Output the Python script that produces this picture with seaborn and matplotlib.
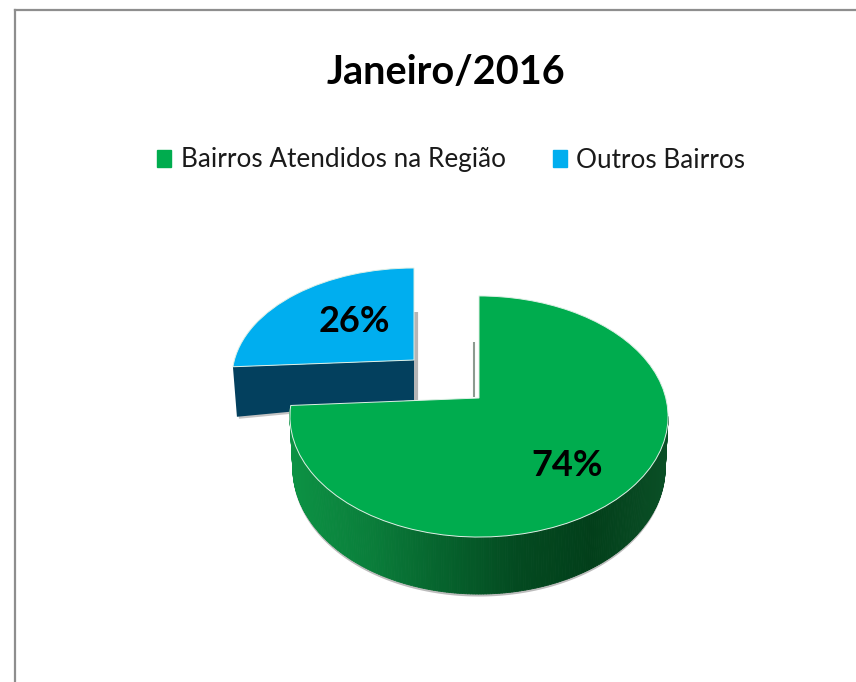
from matplotlib import pyplot as plt
from matplotlib.collections import PolyCollection
from matplotlib.patches import Patch, Polygon
from matplotlib.transforms import Transform
import numpy as np
import seaborn as sns

title = "Janeiro/2016"
categories = ["Bairros Atendidos na Região", "Outros Bairros"]
shares = [74, 26]
labels = ["74%", "26%"]

W, H = 856, 682
GREEN = "#00ac4e"
BLUE = "#00aeef"
NAVY = "#03405e"
GREEN_WALL = ["#0c9244", "#0a7f3b", "#06632d", "#034a20", "#023f1a", "#0a4f26"]

sns.set_theme(style="white")
plt.rcParams["font.family"] = ["Lato", "DejaVu Sans"]


class Tilt(Transform):
    # perspective view of a unit pie, result in picture pixels
    input_dims = 2
    output_dims = 2

    def __init__(self, cx, cy, sx, sy, k):
        super().__init__()
        self.cx, self.cy, self.sx, self.sy, self.k = cx, cy, sx, sy, k

    def transform_non_affine(self, values):
        x, y = values[:, 0], values[:, 1]
        w = 1 + self.k * y
        return np.column_stack([self.cx + self.sx * x / w, self.cy - self.sy * y / w])


def unit_points(angles):
    return np.column_stack([np.cos(np.radians(angles)), np.sin(np.radians(angles))])


def draw_slice(ax, value, color, tilt, clockwise, zorder):
    wedges, _ = ax.pie([value / 100], colors=[color], startangle=90, normalize=False,
                       counterclock=not clockwise,
                       wedgeprops={"clip_on": False, "linewidth": 0.7, "edgecolor": "#dff0e6", "zorder": zorder})
    wedges[0].set_transform(tilt + ax.transData)


fig = plt.figure(figsize=(W / 100, H / 100), dpi=100)

# chart border, only left and top are drawn in the picture
frame = fig.add_axes([15 / W, 0, 1, 1 - 10 / H])
frame.set_xticks([])
frame.set_yticks([])
sns.despine(ax=frame, top=False, right=True, left=False, bottom=True)
for side_name in ["left", "top"]:
    frame.spines[side_name].set_color("#8e8e8e")
    frame.spines[side_name].set_linewidth(1.6)

ax = fig.add_axes([0, 0, 1, 1])

# blue slice, pulled away from the pie
tilt_b = Tilt(414, 360, 179.6, 106.7, 0.16)
draw_slice(ax, shares[1], BLUE, tilt_b, False, 3)
end = tilt_b.transform(unit_points(np.array([90 + 3.6 * shares[1]])))[0]
apex = tilt_b.transform(np.array([[0.0, 0.0]]))[0]
wall = [end, apex, apex + [0, 40], end + [4, 50]]
ax.add_patch(Polygon(np.array(wall) + [2, 2], color="#c4c4c4", lw=0, zorder=1))
ax.plot([416.5, 416.5], [312, 400], color="#b5b5b5", lw=3, solid_capstyle="butt", zorder=1)
ax.add_patch(Polygon(wall, color=NAVY, lw=0, zorder=2))

# green slice with the shaded side wall
tilt_g = Tilt(479, 398, 186.8, 117.7, 0.1535)
draw_slice(ax, shares[0], GREEN, tilt_g, True, 7)
ax.plot([474.5, 474.5], [342, 397], color="#8c9a90", lw=1.5, solid_capstyle="butt", zorder=4)
t = np.linspace(90 - 3.6 * shares[0] + 360, 360 - np.degrees(np.arcsin(tilt_g.k)), 240)
top = tilt_g.transform(unit_points(t))
depth = 50 + 7 * np.abs(np.sin(np.radians(t)))
bottom = np.column_stack([479 + (top[:, 0] - 479) * 0.985, top[:, 1] + depth])
outline = np.vstack([top, bottom[::-1]])
ax.add_patch(Polygon(outline + [0, 2.5], color="#bcbcbc", lw=0, zorder=5))
cmap = sns.blend_palette(GREEN_WALL, n_colors=256, as_cmap=True)
strips = [[top[i], top[i + 1], bottom[i + 1], bottom[i]] for i in range(len(t) - 1)]
strip_colors = cmap((top[:-1, 0] - top[:, 0].min()) / np.ptp(top[:, 0]))
ax.add_collection(PolyCollection(strips, facecolors=strip_colors, edgecolors=strip_colors,
                                 linewidths=0.6, zorder=6))

ax.set_aspect("auto")
ax.set_xlim(0, W)
ax.set_ylim(H, 0)
ax.axis("off")

fig.text(446 / W, 1 - 72 / H, title, ha="center", va="center", fontsize=28.5, fontweight="bold", color="black")
fig.text(567 / W, 1 - 466 / H, labels[0], ha="center", va="center", fontsize=26, fontweight="bold", color="black")
fig.text(354 / W, 1 - 321 / H, labels[1], ha="center", va="center", fontsize=26, fontweight="bold", color="black")

fig.legend(handles=[Patch(color=GREEN), Patch(color=BLUE)], labels=categories,
           ncol=2, loc="center", bbox_to_anchor=(451 / W, 1 - 160 / H), frameon=False,
           fontsize=18.8, handlelength=0.55, handleheight=0.65, handletextpad=0.35,
           columnspacing=1.8, labelcolor="#1a1a1a")

fig.savefig("out.png", dpi=100)
